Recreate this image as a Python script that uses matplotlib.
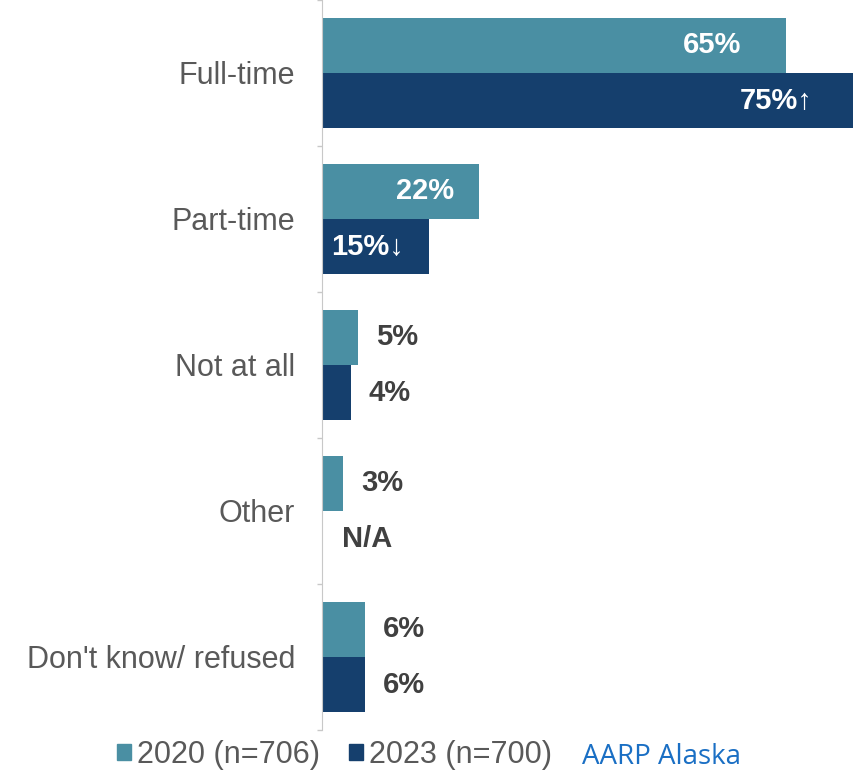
import numpy as np
import matplotlib.pyplot as plt
from matplotlib.patches import Patch
from matplotlib.ticker import FixedLocator

plt.rcParams['font.family'] = ['Liberation Sans', 'DejaVu Sans']

# Datos
categories = ['Full-time', 'Part-time', 'Not at all', 'Other', "Don't know/ refused"]
vals_2020 = [65, 22, 5, 3, 6]
vals_2023 = [75, 15, 4, None, 6]
marks_2023 = ['\u2191', '\u2193', '', '', '']
series_names = ['2020 (n=706)', '2023 (n=700)']

colors = ['#4a8fa3', '#153f6d']
fs = 22
dpi = 100

fig = plt.figure(figsize=(8.54, 7.75), dpi=dpi)
W, H = 854, 775
ax = fig.add_axes([322 / W, 45 / H, (W - 322) / W, 730 / H])

y = np.arange(len(categories))
bh = 0.377

v23 = [v if v is not None else 0 for v in vals_2023]
ax.barh(y - bh / 2, vals_2020, height=bh, color=colors[0], zorder=2)
ax.barh(y + bh / 2, v23, height=bh, color=colors[1], zorder=2)

ax.set_xlim(0, 74.6)
ax.set_ylim(len(categories) - 0.5, -0.5)

px = 72 / dpi  # pixeles a puntos

def label(val, yy, mark=''):
    if val is None:
        ax.annotate('N/A', (0, yy), xytext=(20 * px, 0), textcoords='offset points',
                    ha='left', va='center', fontsize=fs - 1, fontweight='bold',
                    color='#404040', annotation_clip=False)
    elif val > 10:
        off = 44 if val > 50 else 25
        ax.annotate(f'{val}%{mark}', (val, yy), xytext=(-off * px, 0),
                    textcoords='offset points', ha='right', va='center',
                    fontsize=fs - 1, fontweight='bold', color='white',
                    annotation_clip=False, zorder=5)
    else:
        ax.annotate(f'{val}%{mark}', (val, yy), xytext=(18 * px, 0),
                    textcoords='offset points', ha='left', va='center',
                    fontsize=fs - 1, fontweight='bold', color='#404040',
                    annotation_clip=False)

for i in range(len(categories)):
    label(vals_2020[i], y[i] - bh / 2)
    label(vals_2023[i], y[i] + bh / 2, marks_2023[i])

# Ejes
for s in ['top', 'right', 'bottom']:
    ax.spines[s].set_visible(False)
ax.spines['left'].set_color('#c8c8c8')
ax.xaxis.set_visible(False)
ax.set_yticks(y)
ax.set_yticklabels(categories, fontsize=fs, color='#595959')
ax.tick_params(axis='y', which='major', length=0, pad=27 * px)
ax.yaxis.set_minor_locator(FixedLocator(np.arange(-0.5, len(categories), 1.0)))
ax.tick_params(axis='y', which='minor', length=5 * px, color='#c8c8c8', width=1)

# Leyenda
handles = [Patch(color=c) for c in colors]
fig.legend(handles, series_names, loc='center left', bbox_to_anchor=(117 / W, 1 - 755 / H),
           ncol=2, frameon=False, fontsize=fs, labelcolor='#595959',
           handlelength=0.45, handleheight=0.45, handletextpad=0.2,
           columnspacing=0.95, borderpad=0, borderaxespad=0)

fig.text(582 / W, 4 / H, 'AARP Alaska', color='#1a6fc4', fontsize=20,
         family='Open Sans', ha='left', va='bottom')

plt.savefig('out.png', dpi=dpi)
